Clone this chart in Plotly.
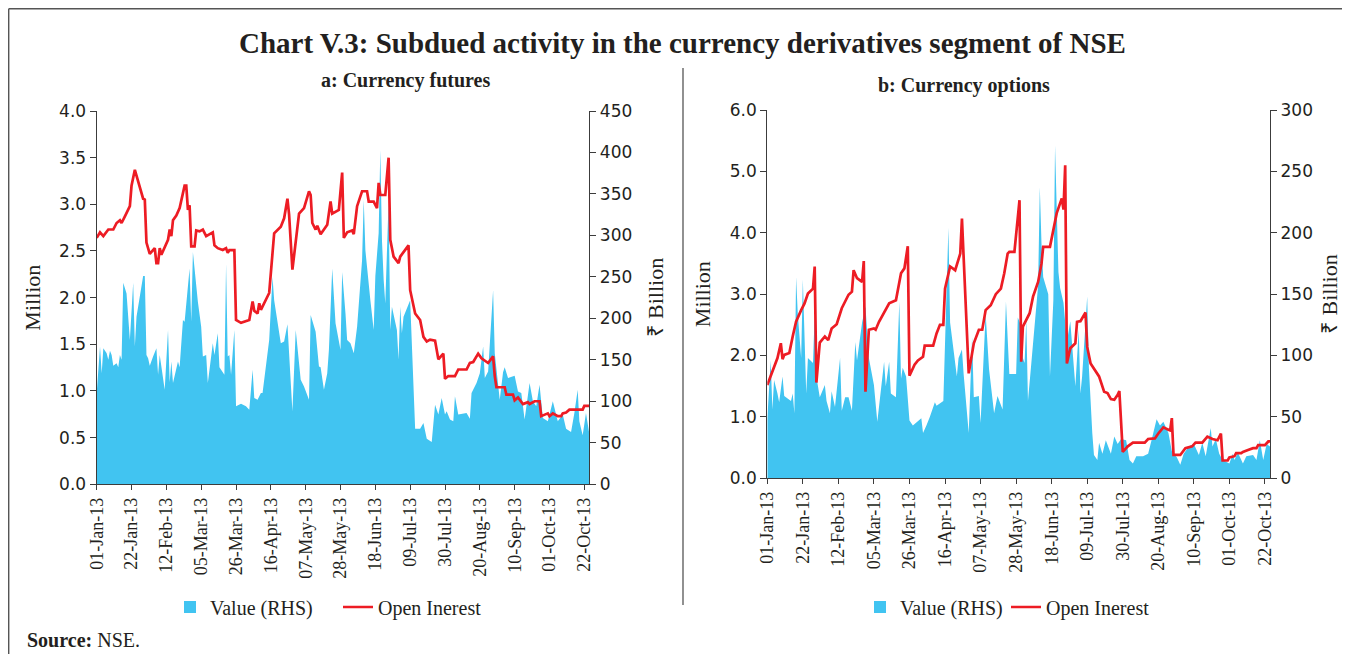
import pandas as pd
import plotly.graph_objects as go

# day offsets from 01-Jan-2013

# a: Currency futures - open interest (Million, LHS)
fut_oi_day = [0, 2, 4, 7, 10, 12, 14, 15, 17, 20, 21, 23, 28, 29, 30, 32, 35, 36, 37, 38,
              39, 43, 44, 45, 46, 48, 50, 53, 54, 55, 56, 57, 59, 60, 62, 64, 66, 70, 71, 73,
              76, 78, 79, 80, 83, 84, 87, 92, 94, 95, 97, 98, 99, 104, 107, 111, 113, 115, 116, 118,
              122, 125, 128, 129, 130, 132, 133, 135, 139, 141, 142, 146, 148, 149, 151, 154, 155, 157, 160, 163,
              164, 167, 169, 170, 171, 174, 176, 177, 179, 181, 182, 183, 185, 188, 189, 192, 195, 197, 199, 201,
              204, 206, 209, 210, 212, 216, 218, 223, 225, 227, 230, 232, 236, 239, 240, 241, 246, 247, 251, 252,
              254, 257, 260, 261, 264, 267, 268, 272, 273, 275, 278, 280, 281, 283, 285, 293, 294, 297]
fut_oi = [2.64, 2.70, 2.66, 2.73, 2.73, 2.80, 2.83, 2.80, 2.87, 2.98, 3.20, 3.37, 3.06, 3.05, 2.59, 2.47, 2.53, 2.37, 2.37, 2.53,
          2.46, 2.62, 2.73, 2.66, 2.83, 2.88, 2.96, 3.20, 3.20, 2.94, 2.99, 2.55, 2.55, 2.72, 2.71, 2.73, 2.66, 2.70, 2.56, 2.53,
          2.51, 2.53, 2.48, 2.51, 2.51, 1.76, 1.73, 1.76, 1.96, 1.86, 1.83, 1.94, 1.87, 2.05, 2.69, 2.76, 2.85, 3.06, 2.89, 2.30,
          2.90, 2.96, 3.14, 3.10, 2.80, 2.73, 2.77, 2.68, 2.78, 3.03, 2.90, 2.94, 3.34, 2.64, 2.70, 2.72, 2.68, 2.98, 3.14, 3.14,
          3.03, 3.03, 2.96, 3.23, 3.10, 3.10, 3.50, 2.62, 2.44, 2.40, 2.37, 2.44, 2.49, 2.56, 2.08, 1.83, 1.76, 1.58, 1.53, 1.55,
          1.54, 1.34, 1.40, 1.13, 1.16, 1.16, 1.23, 1.23, 1.30, 1.31, 1.40, 1.35, 1.30, 1.37, 1.16, 1.04, 1.04, 0.96, 0.96, 0.90,
          0.93, 0.86, 0.88, 0.86, 0.89, 0.89, 0.73, 0.76, 0.73, 0.76, 0.73, 0.73, 0.76, 0.77, 0.80, 0.80, 0.84, 0.84]

# a: Currency futures - value (Rs Billion, RHS)
fut_val_day = [0, 2, 3, 4, 6, 7, 8, 9, 10, 12, 13, 14, 15, 16, 18, 20, 22, 23, 24, 28,
               29, 30, 31, 32, 34, 36, 37, 38, 41, 43, 44, 45, 46, 49, 50, 52, 53, 56, 57, 58,
               61, 63, 64, 66, 67, 70, 71, 73, 74, 77, 78, 79, 80, 81, 83, 84, 87, 90, 92, 94,
               95, 97, 99, 100, 104, 106, 107, 111, 113, 115, 116, 118, 120, 123, 125, 128, 129, 132, 134, 135,
               137, 139, 140, 142, 144, 147, 148, 150, 151, 153, 155, 157, 160, 161, 162, 165, 167, 168, 170, 171,
               172, 173, 174, 176, 177, 178, 181, 182, 183, 184, 185, 189, 192, 195, 197, 199, 202, 204, 206, 208,
               210, 211, 213, 215, 216, 218, 223, 225, 226, 229, 231, 233, 234, 236, 239, 240, 243, 245, 246, 248,
               252, 254, 256, 258, 261, 263, 265, 267, 269, 272, 275, 278, 281, 283, 286, 288, 290, 291, 293, 295,
               297]
fut_val = [110, 166, 134, 164, 158, 150, 161, 156, 143, 146, 141, 156, 150, 243, 230, 174, 243, 166, 202, 251,
           251, 156, 152, 143, 154, 164, 132, 156, 114, 186, 123, 148, 122, 148, 141, 198, 196, 260, 196, 280,
           220, 190, 154, 156, 122, 170, 156, 182, 141, 132, 266, 154, 156, 132, 186, 94, 97, 94, 90, 138,
           104, 102, 110, 110, 174, 250, 222, 170, 172, 193, 158, 88, 186, 126, 118, 102, 204, 184, 142, 141,
           114, 134, 162, 260, 194, 162, 256, 206, 174, 170, 158, 190, 270, 343, 282, 222, 186, 251, 303, 403,
           294, 247, 218, 343, 186, 214, 186, 150, 214, 182, 202, 222, 67, 67, 74, 55, 51, 96, 84, 104,
           84, 88, 78, 76, 106, 84, 86, 79, 110, 122, 134, 166, 128, 136, 234, 158, 102, 135, 141, 128,
           131, 112, 110, 78, 122, 100, 94, 120, 80, 76, 100, 76, 84, 67, 63, 86, 114, 76, 59, 86,
           61]

# b: Currency options - open interest (Million, LHS)
opt_oi_day = [0, 2, 4, 6, 8, 9, 10, 13, 15, 17, 20, 22, 24, 27, 28, 29, 31, 34, 36, 38,
              41, 44, 48, 50, 51, 53, 56, 57, 58, 60, 63, 64, 66, 69, 72, 76, 79, 81, 83, 84,
              87, 89, 92, 93, 98, 100, 102, 104, 105, 108, 111, 114, 115, 119, 122, 125, 127, 129, 132, 135,
              138, 140, 142, 143, 146, 149, 150, 151, 153, 155, 157, 160, 162, 163, 167, 169, 171, 174, 175, 176,
              177, 179, 182, 183, 185, 188, 189, 191, 194, 196, 199, 201, 203, 205, 207, 208, 210, 212, 213, 216,
              223, 225, 229, 231, 234, 237, 238, 239, 240, 244, 247, 251, 253, 257, 260, 263, 266, 268, 269, 272,
              273, 276, 277, 280, 281, 284, 287, 289, 290, 294, 296, 297]
opt_oi = [1.52, 1.66, 1.82, 1.96, 2.20, 1.94, 2.01, 2.04, 2.31, 2.55, 2.74, 2.85, 3.01, 3.09, 3.45, 1.56, 2.21, 2.31, 2.25, 2.44,
          2.51, 2.77, 2.99, 3.04, 3.39, 3.26, 3.20, 3.54, 1.41, 2.42, 2.44, 2.42, 2.55, 2.69, 2.85, 2.90, 3.34, 3.42, 3.78, 1.67,
          1.85, 1.92, 1.98, 2.16, 2.16, 2.36, 2.50, 2.50, 3.09, 3.45, 3.39, 3.66, 4.23, 1.71, 2.20, 2.42, 2.42, 2.74, 2.82, 3.00,
          3.09, 3.34, 3.66, 3.69, 3.69, 4.53, 1.90, 2.47, 2.58, 2.69, 2.96, 3.20, 3.50, 3.77, 3.77, 4.04, 4.32, 4.56, 4.38, 5.10,
          1.87, 2.12, 2.20, 2.55, 2.56, 2.70, 2.14, 1.87, 1.74, 1.66, 1.41, 1.39, 1.29, 1.28, 1.36, 1.42, 0.43, 0.49, 0.52, 0.58,
          0.58, 0.64, 0.65, 0.73, 0.83, 0.79, 0.78, 0.98, 0.38, 0.38, 0.49, 0.52, 0.58, 0.58, 0.68, 0.64, 0.62, 0.73, 0.29, 0.29,
          0.34, 0.36, 0.41, 0.41, 0.43, 0.46, 0.49, 0.49, 0.54, 0.54, 0.60, 0.60]

# b: Currency options - value (Rs Billion, RHS)
opt_val_day = [0, 2, 3, 4, 6, 7, 9, 10, 14, 15, 16, 17, 18, 20, 21, 23, 24, 27, 28, 29,
               31, 34, 35, 37, 38, 40, 43, 44, 46, 48, 50, 52, 53, 56, 58, 60, 63, 65, 69, 70,
               72, 73, 76, 78, 79, 80, 82, 84, 86, 91, 92, 94, 96, 99, 100, 104, 107, 108, 112, 113,
               115, 116, 119, 121, 122, 125, 126, 129, 131, 134, 136, 139, 141, 143, 147, 148, 150, 151, 152, 153,
               154, 156, 160, 161, 162, 163, 166, 167, 169, 170, 172, 173, 175, 177, 179, 182, 184, 185, 186, 189,
               190, 192, 193, 195, 196, 198, 200, 203, 205, 207, 209, 212, 214, 216, 218, 222, 225, 227, 230, 232,
               234, 237, 239, 242, 244, 246, 249, 252, 255, 257, 259, 262, 263, 265, 267, 269, 273, 275, 276, 278,
               281, 283, 287, 289, 291, 293, 295, 297]
opt_val = [48, 96, 56, 80, 69, 62, 83, 67, 63, 69, 53, 164, 134, 98, 162, 69, 98, 94, 134, 83,
           66, 76, 63, 53, 71, 58, 98, 55, 66, 66, 55, 111, 96, 127, 140, 98, 76, 46, 95, 75,
           95, 69, 66, 144, 81, 90, 83, 47, 43, 49, 37, 43, 50, 62, 59, 63, 204, 127, 83, 98,
           105, 85, 37, 115, 66, 67, 45, 134, 89, 53, 67, 56, 144, 85, 85, 131, 124, 98, 94, 129,
           63, 94, 157, 237, 191, 164, 150, 83, 145, 271, 168, 155, 143, 111, 128, 75, 121, 69, 83, 148,
           90, 37, 19, 15, 29, 20, 31, 20, 34, 28, 32, 31, 15, 12, 18, 18, 20, 31, 48, 43,
           46, 37, 22, 17, 11, 20, 26, 28, 19, 29, 18, 41, 26, 32, 20, 15, 12, 20, 15, 21,
           12, 18, 19, 15, 31, 15, 28, 26]

START = pd.Timestamp("2013-01-01")
END = pd.Timestamp("2013-10-25")


def to_dates(days):
    return START + pd.to_timedelta(days, unit="D")


BLUE = "#41C4F1"
RED = "#ED1C24"
INK = "#231F20"
AXIS = "#3C3C3C"
SERIF = "Liberation Serif"
SANS = "DejaVu Sans"

# the page puts the figure 8px in from the top-left, so positions below are
# given in screen pixels and shifted by that offset
OFF = 8
W, H = 1350 - 2 * OFF, 662 - 2 * OFF


def px(x):
    return (x - OFF) / W


def py(y):
    return 1 - (y - OFF) / H


def xdom(a, b):
    return [px(a), px(b)]


def ydom(top, bottom):
    return [py(bottom), py(top)]


fig = go.Figure()

# value on the primary (right-hand) axis, open interest on the overlaying left axis so the line sits on top
fig.add_trace(go.Scatter(x=to_dates(fut_val_day), y=fut_val, name="Value (RHS)", mode="none",
                         fill="tozeroy", fillcolor=BLUE, xaxis="x", yaxis="y", showlegend=False))
fig.add_trace(go.Scatter(x=to_dates(fut_oi_day), y=fut_oi, name="Open Inerest", mode="lines",
                         line=dict(color=RED, width=2.7), xaxis="x", yaxis="y2", showlegend=False))
fig.add_trace(go.Scatter(x=to_dates(opt_val_day), y=opt_val, name="Value (RHS)", mode="none",
                         fill="tozeroy", fillcolor=BLUE, xaxis="x2", yaxis="y3", showlegend=False))
fig.add_trace(go.Scatter(x=to_dates(opt_oi_day), y=opt_oi, name="Open Inerest", mode="lines",
                         line=dict(color=RED, width=2.7), xaxis="x2", yaxis="y4", showlegend=False))

# legend entries: small square for the area, short line for open interest
for lg, xa, ya, ya2 in [("legend", "x", "y", "y2"), ("legend2", "x2", "y3", "y4")]:
    fig.add_trace(go.Scatter(x=[None], y=[None], name="Value (RHS)", mode="markers",
                             marker=dict(symbol="square", size=12, color=BLUE),
                             xaxis=xa, yaxis=ya, legend=lg))
    fig.add_trace(go.Scatter(x=[None], y=[None], name="Open Inerest", mode="lines",
                             line=dict(color=RED, width=2.7), xaxis=xa, yaxis=ya2, legend=lg))

common_x = dict(type="date", range=[START, END], tick0=START, dtick=21 * 86400000,
                tickformat="%d-%b-%y", tickangle=-90, ticks="outside", ticklen=5,
                tickcolor=AXIS, showline=True, linecolor=AXIS, linewidth=1.3, automargin=False,
                showgrid=False, zeroline=False, tickfont=dict(family=SERIF, size=18, color=INK))
common_y = dict(ticks="outside", ticklen=6, tickcolor=AXIS, showline=True, linecolor=AXIS,
                linewidth=1.3, showgrid=False, zeroline=False, automargin=False,
                tickfont=dict(family=SANS, size=17, color=INK))
title_font = dict(family=SERIF, size=22, color=INK)
legend_common = dict(orientation="h", xanchor="left", yanchor="middle", y=py(607),
                     font=dict(family=SERIF, size=20, color=INK), bgcolor="rgba(0,0,0,0)",
                     itemwidth=30, entrywidthmode="pixels")

fig.update_layout(
    width=W, height=H,
    margin=dict(l=0, r=0, t=0, b=0),
    paper_bgcolor="white", plot_bgcolor="white",
    font=dict(family=SERIF, color=INK),
    xaxis=dict(domain=xdom(96.7, 589.3), anchor="y", **common_x),
    yaxis=dict(domain=ydom(111, 484.3), anchor="x", side="right", range=[0, 450],
               tickvals=list(range(0, 451, 50)),
               title=dict(text="₹ Billion", font=title_font, standoff=16), **common_y),
    yaxis2=dict(overlaying="y", anchor="x", side="left", range=[0, 4],
                tickvals=[i * 0.5 for i in range(9)], tickformat=".1f",
                title=dict(text="Million", font=title_font, standoff=12), **common_y),
    xaxis2=dict(domain=xdom(767.3, 1270), anchor="y3", **common_x),
    yaxis3=dict(domain=ydom(110, 478.3), anchor="x2", side="right", range=[0, 300],
                tickvals=list(range(0, 301, 50)),
                title=dict(text="₹ Billion", font=title_font, standoff=16), **common_y),
    yaxis4=dict(overlaying="y3", anchor="x2", side="left", range=[0, 6],
                tickvals=list(range(0, 7)), tickformat=".1f",
                title=dict(text="Million", font=title_font, standoff=12), **common_y),
    legend=dict(x=px(170), entrywidth=123, **legend_common),
    legend2=dict(x=px(860), entrywidth=101, **legend_common),
)

fig.add_annotation(text="<b>Chart V.3: Subdued activity in the currency derivatives segment of NSE</b>",
                   x=px(682), y=py(43), xref="paper", yref="paper", showarrow=False,
                   xanchor="center", yanchor="middle", font=dict(family=SERIF, size=29, color=INK))
fig.add_annotation(text="<b>a: Currency futures</b>", x=px(405), y=py(81), xref="paper", yref="paper",
                   showarrow=False, xanchor="center", yanchor="middle",
                   font=dict(family=SERIF, size=20, color=INK))
fig.add_annotation(text="<b>b: Currency options</b>", x=px(964), y=py(85), xref="paper", yref="paper",
                   showarrow=False, xanchor="center", yanchor="middle",
                   font=dict(family=SERIF, size=20, color=INK))
fig.add_annotation(text="<b>Source:</b> NSE.", x=px(25), y=py(640), xref="paper", yref="paper",
                   xanchor="left", yanchor="middle", showarrow=False,
                   font=dict(family=SERIF, size=20, color=INK))

# frame lines (top and left edges) and the panel divider
fig.add_shape(type="line", xref="paper", yref="paper", x0=0.0005, x1=1, y0=py(8.7), y1=py(8.7),
              line=dict(color="#555555", width=1.5))
fig.add_shape(type="line", xref="paper", yref="paper", x0=0.0005, x1=0.0005, y0=0, y1=py(8.7),
              line=dict(color="#555555", width=1.5))
fig.add_shape(type="line", xref="paper", yref="paper", x0=px(683), x1=px(683), y0=py(605), y1=py(68),
              line=dict(color="#555555", width=1.3))

fig.write_html("out.html")
